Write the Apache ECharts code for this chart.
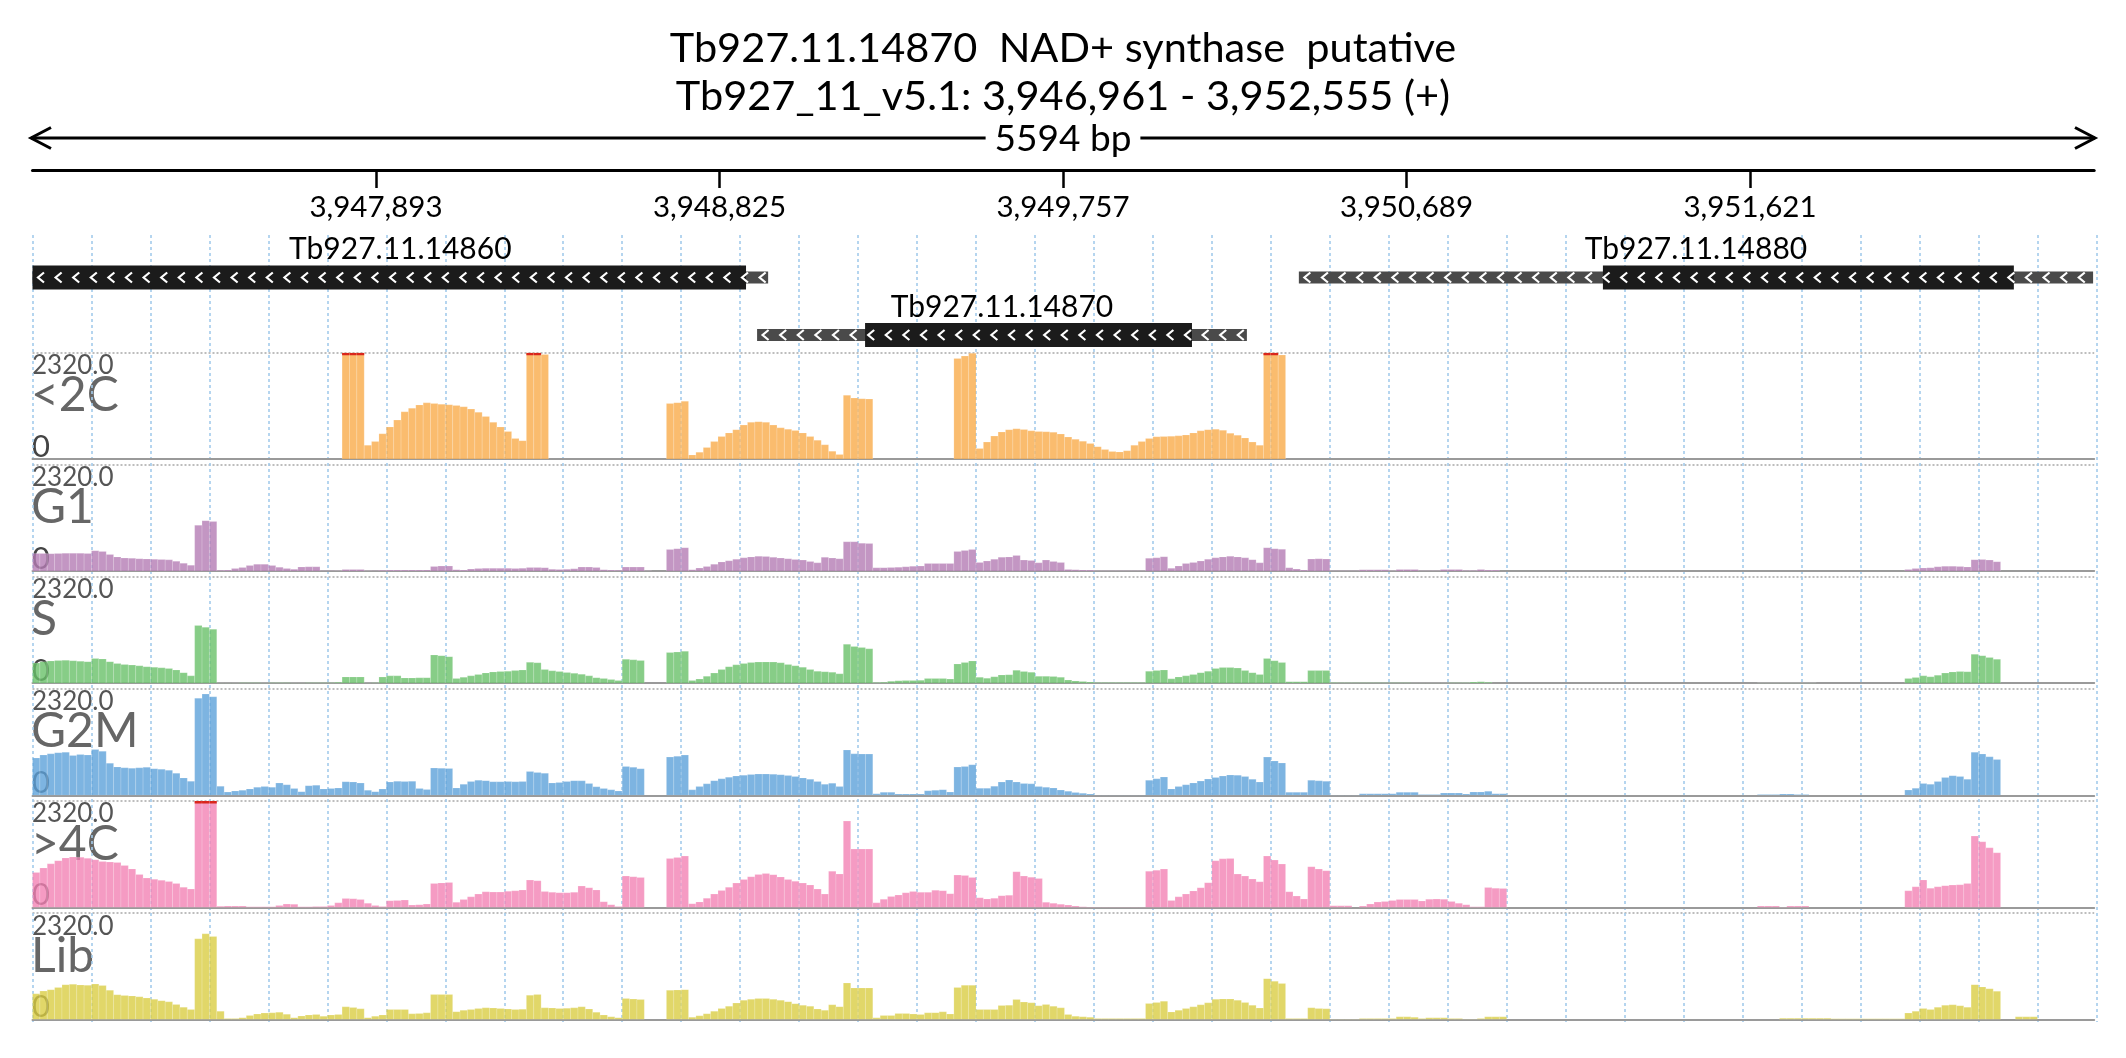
<!DOCTYPE html>
<html><head><meta charset="utf-8">
<script src="https://cdn.jsdelivr.net/npm/echarts@6/dist/echarts.min.js"></script>
<style>html,body{margin:0;padding:0;background:#fff}#c{width:2126px;height:1058px}</style>
</head><body><div id="c"></div>
<script>
// ---------- data ----------
const VIEW_START = 3946961, VIEW_END = 3952555;
const BIN_SIZE = 20;                 // bp per coverage bin
const TICK_POSITIONS = [3947893, 3948825, 3949757, 3950689, 3951621];
const Y_MAX = 2320;
const TRACK_NAMES = ['<2C', 'G1', 'S', 'G2M', '>4C', 'Lib'];

// genes
const GENE_NAMES = ['Tb927.11.14860', 'Tb927.11.14870', 'Tb927.11.14880'];
const GENE_START = [3946961, 3948927, 3950397];
const CDS_START  = [3946961, 3949220, 3951222];
const CDS_END    = [3948897, 3950107, 3952337];
const GENE_END   = [3948957, 3950256, 3952552];
const GENE_ROW   = [0, 1, 0];

// coverage: [first bin index, consecutive bin values]
const cov_lt2C = [
  [42, [2500,2500,2500,300,380,550,700,850,1030,1110,1180,1225,1210,1195,1185,1170,1140,1090,1020,930,800,700,600,450,400,2500,2500,2280]],
  [86, [1210,1230,1260,90,150,250,380,490,570,640,740,800,815,800,740,680,650,620,570,490,410,310,170,100,1390,1330,1315,1310]],
  [125, [2196,2247,2306,230,370,500,590,640,660,645,615,600,595,585,545,480,430,390,340,270,210,165,155,180,300,380,450,485,490,495,505,525,570,615,640,650,625,560,520,460,370,300,2500,2500,2270]]
];
const cov_G1 = [
  [0, [385,385,380,385,390,390,390,385,445,430,360,310,285,280,270,265,260,255,245,215,170,130]],
  [22, [1000,1100,1080,20,22,55,80,120,150,150,120,85,55,38,90,95,95,5,5,10]],
  [42, [36,36,36,10,5,20,22,22,22,22,22,25,100,109,109,30,22,45,55,60,62,60,60,58,62,80,80,75,40,36,40,50,87,87,80,30,22,20,87,87,87,5]],
  [86, [474,490,510,30,65,100,150,200,225,260,290,310,325,320,300,285,270,255,240,210,180,300,285,270,640,640,610,600]],
  [114, [73,75,80,85,95,105,110,165,168,168,168,430,450,474,190,220,260,305,310,340,240,230,180,240,210,185,36,30,25,22,8,8,8,8,8,8,8]],
  [151, [280,290,314,60,110,165,190,220,260,290,310,325,310,290,250,180,510,490,475,73,45,25,263,270,263]],
  [176, [5,5,5,5,29,29,29,29,10,36,36,36,7,7,7,36,36,36,15,15,36,22,22]],
  [254, [36,55,68,75,95,105,108,100,90,250,255,240,205]]
];
const cov_S = [
  [0, [440,470,485,495,500,490,480,470,540,530,470,430,410,395,380,360,350,335,320,290,230,160]],
  [22, [1260,1220,1180,5,3,5,8,10,8,6,10,12,8,6,5,8,10,8,8,20]],
  [42, [138,138,138,5,8,135,160,160,116,116,118,120,616,600,580,100,130,160,190,225,245,255,262,275,290,455,445,300,270,255,235,215,195,160,120,100,80,60,520,510,495]],
  [86, [670,680,696,60,90,150,220,300,360,400,430,450,462,465,460,445,410,380,350,300,260,250,240,205,850,800,780,750]],
  [114, [14,20,40,55,58,60,62,100,105,100,90,420,450,486,130,110,140,180,185,280,255,240,150,150,148,130,70,50,35,25,14,14,14,14,14,14,14]],
  [151, [260,275,290,95,135,160,190,230,260,320,345,345,330,275,230,190,540,490,450,30,29,29,275,275,275]],
  [176, [14,12,12,10,10,10,8,8,8,8,8,5,5,5,5,5,8,10,12,25,29,20]],
  [234, [7,7,7,7,7,7,7,7]],
  [254, [101,125,160,140,175,220,245,254,250,630,600,560,520]]
];
const cov_G2M = [
  [0, [815,880,905,930,940,870,890,880,1000,960,700,620,600,590,600,610,580,570,545,480,380,305]],
  [22, [2120,2210,2150,196,70,95,110,140,175,190,175,268,230,150,80,210,220,140,150,160]],
  [42, [297,290,268,110,80,138,290,305,300,305,150,125,595,590,585,160,240,300,330,320,297,297,300,297,300,520,500,480,270,280,300,320,315,260,185,150,120,95,631,610,580]],
  [86, [834,850,877,120,190,250,320,360,395,420,440,455,465,465,462,450,430,410,380,350,300,240,265,190,990,905,900,899]],
  [114, [36,65,65,29,29,29,29,100,110,123,70,616,631,667,152,152,200,290,335,290,260,250,190,175,160,115,90,60,45,30,7,7,7,7,7,7,7]],
  [151, [326,360,399,140,190,230,270,310,355,390,420,445,440,410,350,290,834,750,705,65,65,65,326,315,305]],
  [176, [5,5,5,5,36,36,36,36,36,65,65,65,15,15,15,51,51,51,29,73,73,87,36,36]],
  [234, [15,15,20,29,29,15,15]],
  [254, [115,155,260,240,300,390,428,410,350,940,900,840,780]]
];
const cov_gt4C = [
  [0, [760,860,950,1020,1080,1100,1095,1070,1040,1000,990,980,915,840,720,640,615,590,565,520,440,400]],
  [22, [2500,2500,2500,25,29,29,29,15,15,15,15,40,73,70,15,15,18,20,40,100]],
  [42, [196,190,175,90,44,20,145,150,160,51,60,73,523,535,545,110,170,230,290,340,335,334,350,363,380,596,582,345,330,320,320,330,465,430,380,124,60,20,684,670,654]],
  [86, [1069,1090,1120,80,120,200,290,370,440,530,610,670,720,740,715,665,610,570,530,490,400,290,790,730,1883,1273,1273,1273]],
  [114, [100,180,240,270,320,345,330,330,375,365,300,705,698,654,210,185,200,255,265,778,684,660,633,110,90,70,50,30,15,10,3,3,3,3,3,3,3]],
  [151, [790,810,836,150,230,290,360,430,540,1018,1060,1069,727,684,620,560,1120,1033,945,342,247,182,887,836,800]],
  [176, [36,36,36,0,29,73,116,130,150,174,174,170,140,180,182,178,130,90,60,15,15,436,420,414]],
  [234, [29,29,29,5,29,29,29]],
  [254, [363,450,600,420,450,475,487,495,520,1556,1432,1300,1192]]
];
const cov_Lib = [
  [0, [560,620,650,700,760,770,755,745,775,740,640,540,525,515,495,470,440,410,385,330,270,220]],
  [22, [1760,1870,1813,181,22,22,40,90,120,140,145,160,115,40,75,100,109,73,100,109]],
  [42, [276,260,232,40,73,100,218,218,218,123,130,145,544,544,544,170,200,218,240,254,250,240,230,218,225,529,544,254,250,240,245,254,276,230,160,100,60,40,457,445,435]],
  [86, [638,645,652,50,80,125,180,240,290,360,420,440,460,460,440,420,390,345,310,290,230,200,320,280,797,689,689,689]],
  [114, [36,87,87,131,131,120,109,145,150,167,120,700,747,747,218,218,218,305,312,435,380,363,300,330,290,254,109,73,60,51,22,22,22,22,22,22,22]],
  [151, [348,370,399,165,200,240,276,320,363,440,450,450,420,370,310,250,892,834,783,22,22,22,254,240,232]],
  [176, [3,3,3,3,22,22,22,22,22,58,58,50,22,36,36,36,22,22,7,7,20,58,58,58]],
  [237, [29,29,29,29,29,29,29,15,15,15,15,15,15,15,15,15,15]],
  [254, [140,180,240,220,265,310,320,300,270,761,711,670,616,0,0,58,58,58]]
];
const TRACK_DATA = [cov_lt2C, cov_G1, cov_S, cov_G2M, cov_gt4C, cov_Lib];

// ---------- styling / layout ----------
const TRACK_COLORS = ['#f9ab4a', '#b47cb4', '#69c069', '#5ca1d9', '#f282b4', '#d9cd43'];
const FONT = 'Lato';
const PLOT_LEFT = 32.5, PLOT_WIDTH = 2061.7;
const TRACK_TOP0 = 352.7, TRACK_STEP = 112.1, TRACK_H = 106.3;
const GENE_ROW_Y = [277.5, 335];

const chart = echarts.init(document.getElementById('c'), null, { renderer: 'canvas' });

const grids = [], xAxes = [], yAxes = [], series = [];
// 0: ruler
grids.push({ left: PLOT_LEFT, width: PLOT_WIDTH, top: 169, height: 1 });
xAxes.push({ gridIndex: 0, type: 'value', min: VIEW_START, max: VIEW_END, position: 'bottom',
  axisLine: { show: true, lineStyle: { color: '#000', width: 3 } },
  axisTick: { show: true, customValues: TICK_POSITIONS, length: 18, lineStyle: { color: '#000', width: 2.5 } },
  axisLabel: { show: true, customValues: TICK_POSITIONS, formatter: v => Number(v).toLocaleString('en-US'),
    fontSize: 29.5, fontFamily: FONT, color: '#000', margin: 22 },
  splitLine: { show: false } });
yAxes.push({ gridIndex: 0, type: 'value', show: false });
// 1: background vertical guides every 160 bp
grids.push({ left: PLOT_LEFT, width: 5600 * PLOT_WIDTH / (VIEW_END - VIEW_START), top: 235, height: 787 });
xAxes.push({ gridIndex: 1, type: 'value', min: 0, max: 5600, interval: 160,
  axisLine: { show: false }, axisTick: { show: false }, axisLabel: { show: false },
  splitLine: { show: true, lineStyle: { color: '#a3cbeb', width: 1.6, type: [3, 3] } } });
yAxes.push({ gridIndex: 1, type: 'value', show: false, splitLine: { show: false } });
// 2: genes
grids.push({ left: PLOT_LEFT, width: PLOT_WIDTH, top: 230, height: 125 });
xAxes.push({ gridIndex: 2, type: 'value', min: VIEW_START, max: VIEW_END, show: false });
yAxes.push({ gridIndex: 2, type: 'value', min: 0, max: 1, show: false });
// 3..8 tracks
for (let k = 0; k < 6; k++) {
  grids.push({ left: PLOT_LEFT, width: PLOT_WIDTH, top: TRACK_TOP0 + TRACK_STEP * k, height: TRACK_H });
  xAxes.push({ gridIndex: 3 + k, type: 'value', min: VIEW_START, max: VIEW_END,
    axisLine: { show: true, onZero: false, lineStyle: { color: '#9a9a9a', width: 2 } },
    axisTick: { show: false }, axisLabel: { show: false }, splitLine: { show: false } });
  yAxes.push({ gridIndex: 3 + k, type: 'value', min: 0, max: Y_MAX, interval: Y_MAX,
    axisLine: { show: false }, axisTick: { show: false }, axisLabel: { show: false },
    splitLine: { show: true, lineStyle: { color: '#bdbdbd', width: 2, type: [2, 2] } } });
}

// gene series
series.push({
  type: 'custom', xAxisIndex: 2, yAxisIndex: 2, silent: true, clip: true,
  data: GENE_NAMES.map((n, i) => [GENE_START[i], CDS_START[i], CDS_END[i], GENE_END[i], GENE_ROW[i]]),
  encode: { x: [0, 3] },
  renderItem(params, api) {
    const gs = api.coord([api.value(0), 0])[0];
    const cs = api.coord([api.value(1), 0])[0];
    const ce = api.coord([api.value(2), 0])[0];
    const ge = api.coord([api.value(3), 0])[0];
    const yc = GENE_ROW_Y[api.value(4)];
    const ch = [
      { type: 'rect', shape: { x: gs, y: yc - 6, width: ge - gs, height: 12 }, style: { fill: '#4a4a4a' } },
      { type: 'rect', shape: { x: cs, y: yc - 12, width: ce - cs, height: 24 }, style: { fill: '#1b1b1b' } }
    ];
    for (let x = gs + 8; x < ge - 3; x += 17.6) {
      ch.push({ type: 'polyline', shape: { points: [[x + 3.5, yc - 5], [x - 2.5, yc], [x + 3.5, yc + 5]] },
        style: { stroke: '#fff', lineWidth: 2.2, fill: null } });
    }
    ch.push({ type: 'text', x: (gs + ge) / 2, y: yc - 28,
      style: { text: GENE_NAMES[params.dataIndex], font: '30px ' + FONT, fill: '#000', align: 'center', verticalAlign: 'middle' } });
    return { type: 'group', children: ch };
  }
});

// coverage tracks
TRACK_DATA.forEach((segs, k) => {
  const data = [];
  segs.forEach(([s, vals]) => vals.forEach((v, j) => data.push([VIEW_START + (s + j) * BIN_SIZE, v])));
  const color = TRACK_COLORS[k];
  series.push({
    type: 'custom', name: TRACK_NAMES[k], xAxisIndex: 3 + k, yAxisIndex: 3 + k, silent: true, clip: true,
    data, encode: { x: 0, y: 1 },
    renderItem(params, api) {
      const x0 = api.value(0), v = api.value(1);
      if (!v) return null;
      const top = api.coord([x0, Math.min(v, Y_MAX)]);
      const bot = api.coord([x0 + BIN_SIZE, 0]);
      const w = bot[0] - top[0], h = bot[1] - top[1];
      const ch = [{ type: 'rect', shape: { x: top[0], y: top[1], width: w, height: h },
        style: { fill: color, opacity: 0.8, stroke: 'rgba(255,255,255,0.35)', lineWidth: 0.6 } }];
      if (v > Y_MAX) ch.push({ type: 'rect', shape: { x: top[0], y: top[1], width: w, height: 2.5 }, style: { fill: '#d9261c' } });
      return { type: 'group', children: ch };
    }
  });
});

// text & decorations
const graphic = [
  { type: 'text', x: 1063, y: 49, style: { text: 'Tb927.11.14870  NAD+ synthase  putative', font: '41.5px ' + FONT, fill: '#000', align: 'center', verticalAlign: 'middle' } },
  { type: 'text', x: 1063, y: 97, style: { text: 'Tb927_11_v5.1: 3,946,961 - 3,952,555 (+)', font: '41.5px ' + FONT, fill: '#000', align: 'center', verticalAlign: 'middle' } },
  { type: 'line', shape: { x1: 31, y1: 138, x2: 2095, y2: 138 }, style: { stroke: '#000', lineWidth: 3 } },
  { type: 'polyline', shape: { points: [[51, 127.5], [31, 138], [51, 148.5]] }, style: { stroke: '#000', lineWidth: 3, fill: null } },
  { type: 'polyline', shape: { points: [[2075, 127.5], [2095, 138], [2075, 148.5]] }, style: { stroke: '#000', lineWidth: 3, fill: null } },
  { type: 'text', x: 1063, y: 139, style: { text: (VIEW_END - VIEW_START) + ' bp', font: '37px ' + FONT, fill: '#000', align: 'center', verticalAlign: 'middle', backgroundColor: '#fff', padding: [0, 9] } }
];
TRACK_NAMES.forEach((name, k) => {
  const top = TRACK_TOP0 + TRACK_STEP * k;
  graphic.push({ type: 'text', x: 32, y: top + 13, style: { text: Y_MAX.toFixed(1), font: '26px ' + FONT, fill: '#555', align: 'left', verticalAlign: 'middle' } });
  graphic.push({ type: 'text', x: 31, y: top + 43, style: { text: name, font: '48px ' + FONT, fill: '#666', align: 'left', verticalAlign: 'middle' } });
  graphic.push({ type: 'text', x: 32, y: top + 94, style: { text: '0', font: '31px ' + FONT, fill: '#444', align: 'left', verticalAlign: 'middle' } });
});

chart.setOption({
  animation: false,
  backgroundColor: '#fff',
  grid: grids, xAxis: xAxes, yAxis: yAxes, series, graphic
});
</script></body></html>
